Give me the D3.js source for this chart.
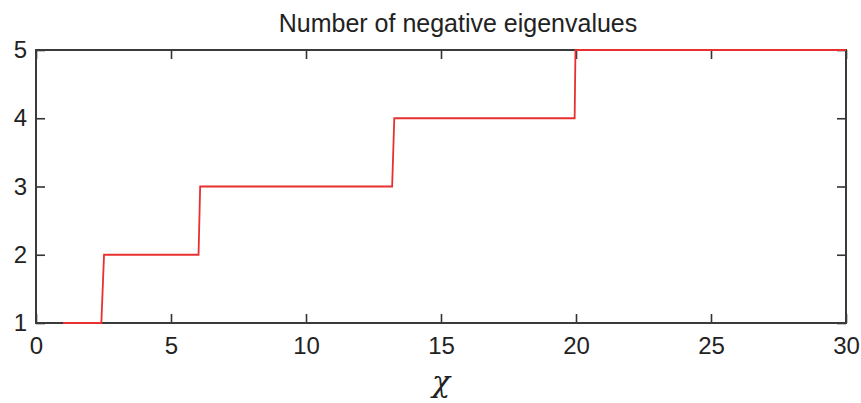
<!DOCTYPE html>
<html>
<head>
<meta charset="utf-8">
<script src="https://cdn.jsdelivr.net/npm/d3@7"></script>
<style>
  body { margin: 0; background: #fff; }
  text { font-family: "Liberation Sans", Arial, sans-serif; fill: #222; }
</style>
</head>
<body>
<div id="grafico"></div>
<script>
// step curve: chi -> number of negative eigenvalues
const chiVals = [1, 2.42, 2.52, 6.02, 6.08, 13.19, 13.27, 19.95, 19.98, 30];
const negVals = [1, 1, 2, 2, 3, 3, 4, 4, 5, 5];
const xTicks = [0, 5, 10, 15, 20, 25, 30];
const yTicks = [1, 2, 3, 4, 5];

const width = 861;
const height = 403;
const margin = { top: 50, right: 15, bottom: 80, left: 36 };

const svg = d3
  .select("#grafico")
  .append("svg")
  .attr("width", width)
  .attr("height", height);

const x = d3.scaleLinear().domain([0, 30]).range([margin.left, width - margin.right]);
const y = d3.scaleLinear().domain([1, 5]).range([height - margin.bottom, margin.top]);

const data = chiVals.map((c, i) => ({ chi: c, n: negVals[i] }));

// Ejes (ticks hacia adentro)
const tk = 9;
const axisStyle = (g) => {
  g.select(".domain").remove();
  g.selectAll("line").attr("stroke", "#333").attr("stroke-width", 1.6);
  g.selectAll("text").style("font-size", "24px").attr("fill", "#222");
};

svg
  .append("g")
  .attr("transform", `translate(0,${y(1)})`)
  .call(d3.axisBottom(x).tickValues(xTicks).tickSize(-tk).tickPadding(14))
  .call(axisStyle);

svg
  .append("g")
  .attr("transform", `translate(0,${y(5)})`)
  .call(d3.axisTop(x).tickValues(xTicks).tickSize(-tk).tickFormat(""))
  .call(axisStyle);

svg
  .append("g")
  .attr("transform", `translate(${x(0)},0)`)
  .call(d3.axisLeft(y).tickValues(yTicks).tickFormat(d3.format("d")).tickSize(-tk).tickPadding(9))
  .call(axisStyle);

svg
  .append("g")
  .attr("transform", `translate(${x(30)},0)`)
  .call(d3.axisRight(y).tickValues(yTicks).tickSize(-tk).tickFormat(""))
  .call(axisStyle);

// Marco
svg
  .append("rect")
  .attr("x", x(0))
  .attr("y", y(5))
  .attr("width", x(30) - x(0))
  .attr("height", y(1) - y(5))
  .attr("fill", "none")
  .attr("stroke", "#3a3a3a")
  .attr("stroke-width", 2);

// Curva (encima del marco)
svg
  .append("path")
  .datum(data)
  .attr("fill", "none")
  .attr("stroke", "#e8312f")
  .attr("stroke-width", 1.8)
  .attr("d", d3.line().x((d) => x(d.chi)).y((d) => y(d.n)));

// Titulo
svg
  .append("text")
  .attr("x", 458)
  .attr("y", 32)
  .attr("text-anchor", "middle")
  .style("font-size", "25px")
  .text("Number of negative eigenvalues");

// Etiqueta eje X
svg
  .append("text")
  .attr("x", x(15))
  .attr("y", 392)
  .attr("text-anchor", "middle")
  .style("font-size", "30px")
  .style("font-family", "'DejaVu Serif', serif")
  .style("font-style", "italic")
  .text("χ");
</script>
</body>
</html>
